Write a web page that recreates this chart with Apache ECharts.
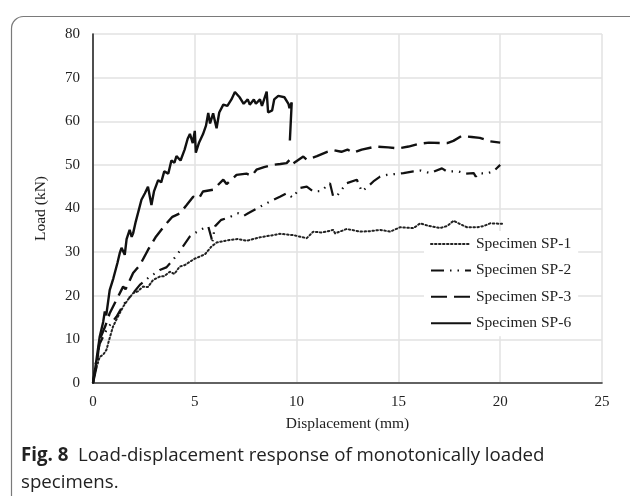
<!DOCTYPE html>
<html>
<head>
<meta charset="utf-8">
<script src="https://cdn.jsdelivr.net/npm/echarts@6/dist/echarts.min.js"></script>
<style>html,body{margin:0;padding:0;background:#fff;}#c{width:630px;height:496px;}</style>
</head>
<body>
<div id="c"></div>
<script>
const xTicks = [0, 5, 10, 15, 20, 25];
const yTicks = [0, 10, 20, 30, 40, 50, 60, 70, 80];
const seriesNames = ['Specimen SP-1', 'Specimen SP-2', 'Specimen SP-3', 'Specimen SP-6'];

const sp1 = [[0,0],[0.08,2.2],[0.2,4],[0.33,6],[0.5,6.5],[0.66,7.6],[0.8,10],[0.98,12.9],[1.2,15],[1.48,17.5],[1.7,19],[1.97,20.6],[2.2,21],[2.46,22.1],[2.7,22],[2.95,23.6],[3.28,24.4],[3.5,24.5],[3.77,25.5],[4.0,25],[4.26,26.7],[4.5,27],[4.76,27.8],[5.0,28.5],[5.25,29],[5.5,29.5],[5.82,31.3],[6.07,32.2],[6.4,32.5],[6.72,32.8],[7.1,33],[7.55,32.6],[8.2,33.4],[8.86,33.9],[9.18,34.2],[9.84,33.9],[10.2,33.5],[10.5,33.2],[10.82,34.7],[11.2,34.5],[11.48,34.7],[11.8,35.1],[11.89,34.3],[12.46,35.3],[12.8,35],[13.12,34.7],[13.6,34.8],[14.1,35.1],[14.6,34.7],[15.08,35.7],[15.74,35.5],[16.07,36.6],[16.5,36],[17.05,35.5],[17.4,36],[17.71,37.2],[18.0,36.5],[18.37,35.7],[18.86,35.7],[19.2,36],[19.51,36.6],[20.09,36.5]];

const sp2 = [[0,0],[0.15,5],[0.33,9],[0.7,12.5],[1.15,15.2],[1.5,18],[1.97,20.6],[2.3,22.5],[2.79,24.4],[3.0,25],[3.28,25.9],[3.6,26.5],[3.93,28.2],[4.3,30.5],[4.76,33.6],[5.25,35.1],[5.66,35.9],[5.82,33.2],[5.85,32],[5.99,35.9],[6.3,37.4],[6.7,38],[7.13,38.9],[7.4,38.3],[7.62,38.9],[8.2,40.4],[8.69,41.6],[9.18,42.7],[9.51,43.5],[9.8,42.5],[10.17,44.7],[10.5,45],[10.82,43.9],[11.2,44],[11.64,45.8],[11.8,42.7],[12.0,43],[12.46,45.8],[12.96,46.6],[13.2,43.9],[13.5,45],[13.77,46.2],[14.1,47.3],[14.43,47.7],[15.25,48.1],[15.74,48.5],[16.1,48.7],[16.56,48.1],[17.14,49.2],[17.38,48.5],[17.95,48.5],[18.3,48],[18.7,48.1],[18.8,47.3],[18.94,48.1],[19.3,48],[19.67,48.5],[20.0,50]];

const sp3 = [[0,0],[0.17,3.7],[0.33,10],[0.6,13],[0.82,16],[1.2,19.5],[1.48,22.1],[1.6,21.5],[1.97,25.2],[2.3,27],[2.7,30.5],[3.1,33.6],[3.5,36],[3.9,38.1],[4.27,38.9],[4.6,40.8],[4.92,42.7],[5.2,42.3],[5.4,43.9],[5.9,44.3],[6.4,46.6],[6.56,45.6],[7.05,47.7],[7.54,48],[7.8,47.5],[8.03,48.9],[8.4,49.5],[8.85,50],[9.2,50.2],[9.51,50.4],[9.67,51.2],[9.8,50.2],[10.33,51.9],[10.5,51.2],[11,52],[11.5,53],[11.8,53.4],[12.2,53],[12.5,53.5],[12.8,52.8],[13.2,53.5],[13.9,54.2],[14.5,54],[15.0,53.8],[15.5,54.2],[16.0,54.8],[16.5,55.1],[17.1,55],[17.4,55],[17.7,55.5],[18.1,56.6],[18.6,56.4],[19.0,56.2],[19.5,55.4],[20.0,55.1]];

const sp6 = [[0,0],[0.1,3],[0.33,10.6],[0.5,14],[0.58,16.4],[0.65,15.5],[0.82,21.3],[1.0,24],[1.2,27.5],[1.31,29.7],[1.4,31],[1.5,30],[1.56,29.4],[1.65,33],[1.8,35.1],[1.9,33.5],[1.97,34.3],[2.1,37],[2.38,42],[2.55,43.5],[2.7,45],[2.87,40.8],[3.0,44],[3.2,46.5],[3.35,46],[3.5,48.5],[3.7,48],[3.85,51],[4.0,50.5],[4.1,52],[4.3,51],[4.5,53.5],[4.65,56],[4.76,57.1],[4.9,55],[5.0,57.8],[5.05,52.8],[5.2,55],[5.4,57],[5.55,59],[5.66,61.9],[5.75,59.5],[5.9,61.8],[6.07,58.4],[6.2,62],[6.4,63.8],[6.6,63.5],[6.8,65],[6.97,66.7],[7.2,65.5],[7.4,64],[7.6,65],[7.7,63.8],[7.9,65],[8.0,64],[8.2,65],[8.3,63.5],[8.53,66.8],[8.6,62],[8.8,62.5],[8.9,65],[9.1,65.8],[9.4,65.5],[9.6,64],[9.65,63],[9.76,64.3],[9.67,55.6]];

const serif = 'Liberation Serif';
const chart = echarts.init(document.getElementById('c'), null, {renderer: 'canvas'});

const axisBase = {
  type: 'value',
  axisTick: {show: false},
};

chart.setOption({
  animation: false,
  backgroundColor: '#fff',
  grid: {left: 93, right: 28, top: 34, bottom: 113, containLabel: false},
  xAxis: [
    Object.assign({}, axisBase, {
      min: xTicks[0], max: xTicks[xTicks.length - 1], interval: 5,
      position: 'bottom',
      name: 'Displacement (mm)', nameLocation: 'middle', nameGap: 33,
      nameTextStyle: {fontFamily: serif, fontSize: 15.5, color: '#222'},
      axisLine: {show: true, lineStyle: {color: '#b0b0b0', width: 1.5}},
      axisLabel: {fontFamily: serif, fontSize: 15, color: '#222', margin: 12},
      splitLine: {show: true, lineStyle: {color: '#e2e2e2', width: 1.5}}
    }),
    Object.assign({}, axisBase, {
      min: xTicks[0], max: xTicks[xTicks.length - 1], interval: 5,
      position: 'top',
      axisLine: {show: true, lineStyle: {color: '#444', width: 1.5}},
      axisLabel: {show: false}, splitLine: {show: false}
    })
  ],
  yAxis: [
    Object.assign({}, axisBase, {
      min: yTicks[0], max: yTicks[yTicks.length - 1], interval: 10,
      position: 'left',
      name: 'Load (kN)', nameLocation: 'middle', nameGap: 44,
      nameTextStyle: {fontFamily: serif, fontSize: 15.5, color: '#222'},
      axisLine: {show: true, lineStyle: {color: '#cfcfcf', width: 1.5}},
      axisLabel: {fontFamily: serif, fontSize: 15, color: '#222', margin: 13},
      splitLine: {show: true, lineStyle: {color: '#e2e2e2', width: 1.5}}
    }),
    Object.assign({}, axisBase, {
      min: yTicks[0], max: yTicks[yTicks.length - 1], interval: 10,
      position: 'right',
      axisLine: {show: true, lineStyle: {color: '#222', width: 1.5}},
      axisLabel: {show: false}, splitLine: {show: false}
    })
  ],
  legend: {
    orient: 'vertical',
    left: 424, top: 231,
    padding: [5, 7, 5, 6],
    backgroundColor: '#fff',
    itemWidth: 40, itemHeight: 12, itemGap: 10.4,
    itemStyle: {opacity: 0},
    textStyle: {fontFamily: serif, fontSize: 15.5, color: '#222'},
    data: seriesNames
  },
  series: [
    {name: seriesNames[0], type: 'line', data: sp1, symbol: 'none', z: 3,
     itemStyle: {color: '#222'},
     lineStyle: {color: '#222', width: 2, type: [1.5, 2.5], cap: 'round'}},
    {name: seriesNames[1], type: 'line', data: sp2, symbol: 'none', z: 3,
     itemStyle: {color: '#111'},
     lineStyle: {color: '#111', width: 2.2, type: [13, 6, 1.5, 6, 1.5, 6]}},
    {name: seriesNames[2], type: 'line', data: sp3, symbol: 'none', z: 3,
     itemStyle: {color: '#111'},
     lineStyle: {color: '#111', width: 2.4, type: [16, 7]}},
    {name: seriesNames[3], type: 'line', data: sp6, symbol: 'none', z: 3,
     itemStyle: {color: '#111'},
     lineStyle: {color: '#111', width: 2.4}}
  ],
  graphic: [
    {type: 'rect', left: 9, top: 14, z: -10, silent: true,
     shape: {width: 660, height: 520, r: 12},
     style: {fill: 'none', stroke: '#7a7a7a', lineWidth: 1.2}},
    {type: 'text', left: 21, top: 442, silent: true,
     style: {
       text: '{b|Fig. 8}  Load-displacement response of monotonically loaded\nspecimens.',
       fontFamily: 'Open Sans', fontSize: 18.7, fill: '#222', lineHeight: 27,
       rich: {b: {fontFamily: 'Open Sans', fontWeight: 'bold', fontSize: 18.7, fill: '#222', lineHeight: 27}}
     }}
  ]
});
</script>
</body>
</html>
